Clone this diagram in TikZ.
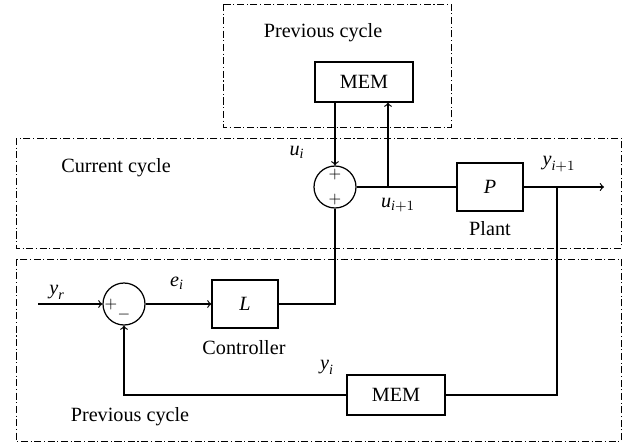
\documentclass[tikz,border=0pt]{standalone}
\usepackage{fontspec}
\setmainfont{Liberation Serif}
\usepackage{amsmath}
\newcommand{\sig}[2]{$\textit{#1}_{#2}$}
\begin{document}
\begin{tikzpicture}[scale=0.2, line width=0.7pt, font=\fontsize{11.5}{13}\selectfont]
\tikzstyle{every node}+=[inner sep=0pt]
\tikzstyle{block}=[draw, black, minimum width=1.32cm, minimum height=0.96cm]
\tikzstyle{memblock}=[draw, black, minimum width=1.96cm, minimum height=0.8cm]
\tikzstyle{sumnode}=[draw, black, circle, minimum size=0.84cm]
\tikzstyle{sign}=[font=\fontsize{9}{10}\selectfont]
\tikzstyle{cyclebox}=[black, line width=0.5pt, dash pattern=on 4pt off 1.5pt on 0.6pt off 1.5pt]
\useasboundingbox (0,0) rectangle (63.2,-44.5);
\draw [cyclebox] (22.3,-0.4) rectangle (45.1,-12.7);
\draw [cyclebox] (1.6,-13.8) rectangle (62.1,-24.8);
\draw [cyclebox] (1.6,-25.9) rectangle (62.1,-44.1);
\node (prevtop) at (32.3,-3.3) {Previous cycle};
\node (curlabel) at (11.6,-16.8) {Current cycle};
\node (prevbot) at (13.0,-41.7) {Previous cycle};
\node [memblock] (memprev) at (36.4,-8.2) {MEM};
\node [sumnode] (sumu) at (33.5,-18.7) {};
\node [sign] (plusa) at (33.5,-17.5) {$+$};
\node [sign] (plusb) at (33.5,-20.0) {$+$};
\node [block] (plant) at (49.0,-18.7) {\textit{P}};
\node (plantlabel) at (49.0,-22.9) {Plant};
\node [sumnode] (sume) at (12.4,-30.4) {};
\node [sign] (plusc) at (11.1,-30.5) {$+$};
\node [sign] (minus) at (12.4,-31.5) {$-$};
\node [block] (ctrl) at (24.5,-30.4) {\textit{L}};
\node (ctrllabel) at (24.4,-34.8) {Controller};
\node [memblock] (memcur) at (39.6,-39.5) {MEM};
\node (ui) at (29.7,-15.2) {\sig{u}{\textit{i}}};
\node (uinext) at (39.8,-20.5) {\sig{u}{\textit{i}+1}};
\node (yinext) at (55.9,-16.4) {\sig{y}{\textit{i}+1}};
\node (yr) at (5.7,-29.2) {\sig{y}{\textit{r}}};
\node (ei) at (17.7,-28.3) {\sig{e}{\textit{i}}};
\node (yi) at (32.7,-36.7) {\sig{y}{\textit{i}}};
\coordinate (yin) at (3.8,-30.4);
\coordinate (uout) at (38.8,-18.7);
\coordinate (ybranch) at (55.7,-18.7);
\coordinate (yout) at (60.4,-18.7);
\draw [black, ->] (memprev.south -| sumu) -- (sumu.north);
\draw [black, ->] (uout) -- (uout |- memprev.south);
\draw [black] (sumu.east) -- (plant.west);
\draw [black, ->] (plant.east) -- (yout);
\draw [black] (ybranch) |- (memcur.east);
\draw [black, ->] (memcur.west) -| (sume.south);
\draw [black, ->] (yin) -- (sume.west);
\draw [black, ->] (sume.east) -- (ctrl.west);
\draw [black] (ctrl.east) -| (sumu.south);
\end{tikzpicture}
\end{document}
